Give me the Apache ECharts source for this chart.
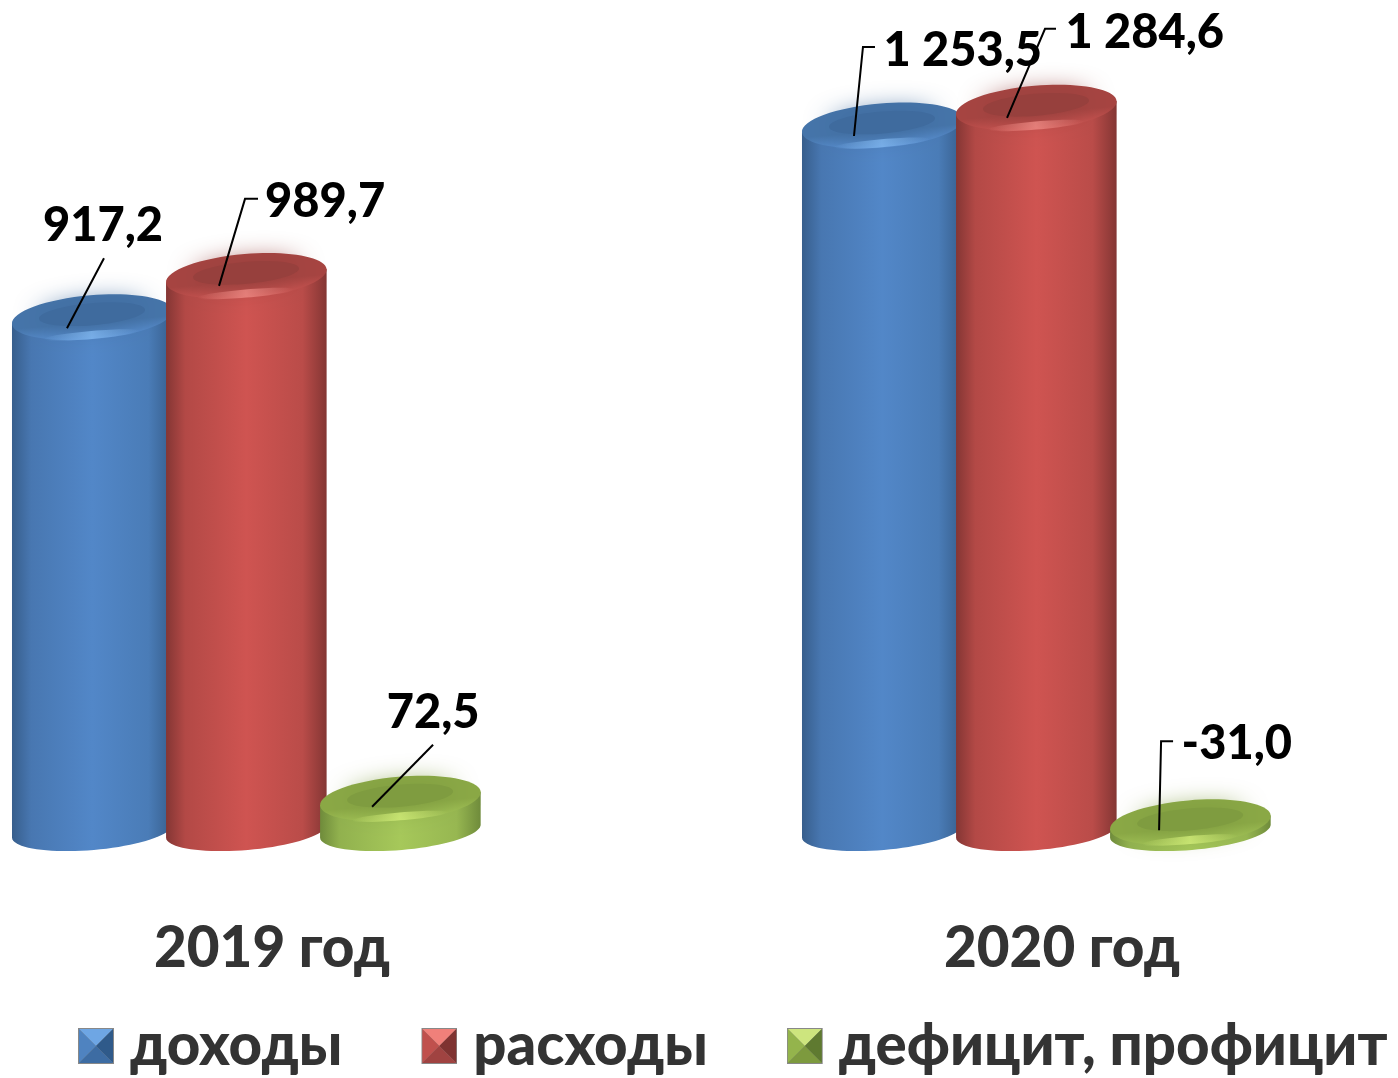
<!DOCTYPE html>
<html><head><meta charset="utf-8">
<style>html,body{margin:0;padding:0;background:#fff}#c{width:1398px;height:1078px}</style>
<script src="https://cdn.jsdelivr.net/npm/echarts@6/dist/echarts.min.js"></script>
</head><body><div id="c"></div>
<script>
const categories = ['2019 год', '2020 год'];
const seriesNames = ['доходы', 'расходы', 'дефицит, профицит'];
const income = [917.2, 1253.5];
const expenses = [989.7, 1284.6];
const balance = [72.5, -31.0];

const FONT = 'Lato, "Noto Sans", sans-serif';
const palette = [
  {edge:'#375e8c', mid:'#5287c8', rim:'#4574a9', rimLow:'#5a90d2', inner:'#3f6b9e', glow:'#86bdf5',
   icon:['#6ea6e4','#4f83c0','#2f5a8a','#3d6ca3']},
  {edge:'#843634', mid:'#cf5451', rim:'#a64441', rimLow:'#cc5552', inner:'#97403d', glow:'#f5928c',
   icon:['#f0807a','#c0504d','#7f3331','#a04341']},
  {edge:'#6f8b3b', mid:'#a6c85a', rim:'#8aa845', rimLow:'#a4c558', inner:'#7f9c40', glow:'#d9f47e',
   icon:['#cde57e','#94b44c','#5f7a30','#7d9a3e']}
];
// leader-line anchors and label placement, relative to each bar's top centre
const leaders = [
  [{line:[[-24.5,11],[12.5,-59]], text:[11.5,-91,'center']},
   {line:[[-27.5,10.5],[-18.5,-78.5],[-6.5,-78.5]], text:[2,-74.5,'left']}],
  [{line:[[-26.5,10],[-0.5,-77],[12.5,-77]], text:[19.5,-74,'left']},
   {line:[[-28.5,10],[9.5,-79],[20.5,-79]], text:[30,-75,'left']}],
  [{line:[[-27.5,8],[33.5,-54]], text:[33.5,-86,'center']},
   {line:[[-30.5,8],[-28.5,-81],[-16.5,-81]], text:[-8,-78,'left']}]
];

function fmt(v){
  const s = Math.abs(v).toFixed(1).split('.');
  const whole = s[0].replace(/\B(?=(\d{3})+$)/g,' ');
  return (v<0?'-':'') + whole + ',' + s[1];
}
const TILT = 0.085;
function ePt(cx,cy,a,b,t){
  const x=a*Math.cos(t), y=b*Math.sin(t);
  return [cx+x*Math.cos(TILT)+y*Math.sin(TILT), cy-x*Math.sin(TILT)+y*Math.cos(TILT)];
}
function hGradBody(p){
  return {type:'linear',x:0,y:0,x2:1,y2:0,colorStops:[
    {offset:0,color:p.edge},{offset:.12,color:blend(p.edge,p.mid,.62)},{offset:.5,color:p.mid},{offset:.85,color:blend(p.edge,p.mid,.72)},{offset:1,color:p.edge}]};
}
function blend(a,b,t){
  const h=c=>[1,3,5].map(i=>parseInt(c.substr(i,2),16));
  const A=h(a),B=h(b);
  return 'rgb('+A.map((v,i)=>Math.round(v+(B[i]-v)*t)).join(',')+')';
}
function makeRender(sIdx){
  return function(params, api){
    const i = api.value(0), v = api.value(1), raw = api.value(2);
    const band = api.size([1,0])[0];
    const w = band*0.204, a = w/2, step = band*0.195;
    const centre = api.coord([i,v])[0] - band*0.0325 + (sIdx-1)*step;
    const top = api.coord([i,v])[1];
    const base = api.coord([i,0])[1] - 9;
    const p = palette[sIdx];
    const bT = 22, bB = 19;
    const pts = [];
    for(let k=0;k<=40;k++){ pts.push(ePt(centre,base,a,bB,Math.PI-k/40*Math.PI)); }
    pts.push(ePt(centre,top,a,bT,0));
    pts.push(ePt(centre,top,a,bT,Math.PI));
    const ell = (extra)=>Object.assign({type:'ellipse',silent:true,x:centre,y:top,rotation:TILT},extra);
    const o = leaders[sIdx][i];
    const linePts = o.line.map(q=>[centre+q[0]-0.8,top+q[1]]);
    return {type:'group',children:[
      {type:'polygon',silent:true,shape:{points:pts},style:{fill:hGradBody(p)}},
      ell({shape:{cx:0,cy:0,rx:a,ry:bT},style:{fill:{type:'linear',x:0,y:0,x2:0,y2:1,colorStops:[
        {offset:0,color:p.rim},{offset:.62,color:p.rim},{offset:1,color:p.rimLow}]}}}),
      ell({shape:{cx:0,cy:-3,rx:a*0.66,ry:bT*0.5},style:{fill:p.inner,shadowBlur:26,shadowColor:p.inner}}),
      ell({shape:{cx:-2,cy:bT*0.8,rx:a*0.6,ry:4},style:{opacity:.7,fill:{type:'linear',x:0,y:0,x2:1,y2:0,colorStops:[
        {offset:0,color:p.glow+'00'},{offset:.5,color:p.glow},{offset:1,color:p.glow+'00'}]}}}),
      {type:'polyline',silent:true,shape:{points:linePts},style:{fill:null,stroke:'#000',lineWidth:2}},
      {type:'text',silent:true,x:centre+o.text[0]-0.8,y:top+o.text[1],style:{text:fmt(raw),
        font:'900 47px '+FONT,fill:'#000',align:o.text[2],verticalAlign:'middle'}}
    ]};
  };
}
function icon(c){
  const svg = '<svg xmlns="http://www.w3.org/2000/svg" width="36" height="36" viewBox="0 0 36 36">'
   +'<rect width="36" height="36" fill="#888"/>'
   +'<polygon points="1,1 35,1 18,18" fill="'+c[0]+'"/>'
   +'<polygon points="1,1 18,18 1,35" fill="'+c[1]+'"/>'
   +'<polygon points="35,1 18,18 35,35" fill="'+c[2]+'"/>'
   +'<polygon points="1,35 18,18 35,35" fill="'+c[3]+'"/></svg>';
  return 'image://data:image/svg+xml;charset=utf-8,'+encodeURIComponent(svg);
}
const values = [income, expenses, balance];
const chart = echarts.init(document.getElementById('c'));
chart.setOption({
  animation:false,
  backgroundColor:'#fff',
  grid:{left:-123,width:1580,top:42,height:798,outerBoundsMode:'none'},
  xAxis:{type:'category',data:categories,axisLine:{show:false},axisTick:{show:false},
    axisLabel:{margin:80,fontFamily:FONT,fontWeight:900,fontSize:56.6,color:'#333'}},
  yAxis:{type:'value',min:0,max:1400,show:false},
  legend:{left:73,top:1012,width:1400,itemGap:79,itemWidth:36,itemHeight:37,
    textStyle:{fontFamily:FONT,fontWeight:900,fontSize:58.2,lineHeight:37,color:'#333',padding:[0,0,0,11]},
    data:seriesNames.map((n,i)=>({name:n,icon:icon(palette[i].icon)}))},
  series:seriesNames.map((n,s)=>({
    type:'custom',name:n,coordinateSystem:'cartesian2d',z:2+s,
    itemStyle:{color:palette[s].mid},
    encode:{x:0,y:1},
    renderItem:makeRender(s),
    data:values[s].map((v,i)=>[i,Math.abs(v),v])
  }))
});
</script></body></html>
